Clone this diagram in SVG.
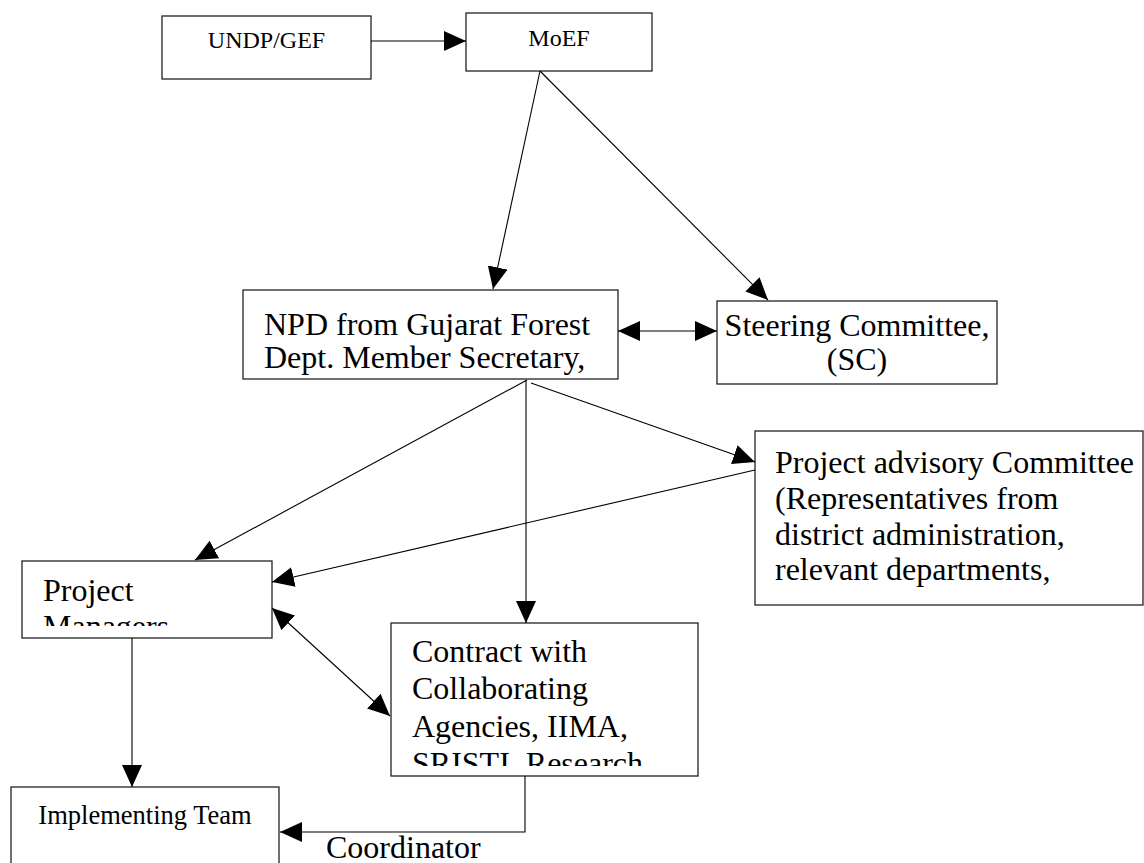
<svg xmlns="http://www.w3.org/2000/svg" width="1144" height="863" viewBox="0 0 1144 863">
<style>
.box{fill:#fff;stroke:#222;stroke-width:1.3}
.t{font-family:"Liberation Serif","Times New Roman",serif;fill:#000}
.s24{font-size:24px}
.s26{font-size:26.5px}
.s32{font-size:32px}
.c line,.c polyline{stroke:#000;stroke-width:1.1;fill:none}
.ah{marker-end:url(#ah)}
.dbl{marker-start:url(#ah);marker-end:url(#ah)}
</style>
<defs>
<marker id="ah" viewBox="0 0 22 20" refX="22" refY="10" markerWidth="22" markerHeight="20" markerUnits="userSpaceOnUse" orient="auto-start-reverse"><path d="M0,0L22,10L0,20z" fill="#000"/></marker>
<clipPath id="cNPD"><rect x="243" y="290" width="375" height="86"/></clipPath>
<clipPath id="cADV"><rect x="755" y="431" width="389" height="171"/></clipPath>
<clipPath id="cPM"><rect x="22" y="561" width="250" height="65"/></clipPath>
<clipPath id="cCON"><rect x="391" y="623" width="307" height="143"/></clipPath>
</defs>
<rect width="1144" height="863" fill="#fff"/>
<g id="undp">
<rect class="box" x="162" y="16" width="209" height="63"/>
<text class="t s24" x="266.5" y="48" text-anchor="middle">UNDP/GEF</text>
</g>
<g id="moef">
<rect class="box" x="466" y="13" width="186" height="58"/>
<text class="t s24" x="559" y="46" text-anchor="middle">MoEF</text>
</g>
<g id="npd">
<rect class="box" x="243" y="290" width="375" height="89"/>
<g clip-path="url(#cNPD)">
<text class="t s32" x="264" y="335">NPD from Gujarat Forest</text>
<text class="t s32" x="264" y="368">Dept. Member Secretary,</text>
</g>
</g>
<g id="steering">
<rect class="box" x="717" y="301" width="280" height="83"/>
<text class="t s32" x="857" y="336" text-anchor="middle">Steering Committee,</text>
<text class="t s32" x="857" y="370" text-anchor="middle">(SC)</text>
</g>
<g id="advisory">
<rect class="box" x="755" y="431" width="388" height="174"/>
<g clip-path="url(#cADV)">
<text class="t s32" x="775" y="473">Project advisory Committee</text>
<text class="t s32" x="775" y="509">(Representatives from</text>
<text class="t s32" x="775" y="545">district administration,</text>
<text class="t s32" x="775" y="580">relevant departments,</text>
</g>
</g>
<g id="pm">
<rect class="box" x="22" y="561" width="250" height="77"/>
<g clip-path="url(#cPM)">
<text class="t s32" x="43" y="601">Project</text>
<text class="t s32" x="43" y="637">Managers</text>
</g>
</g>
<g id="contract">
<rect class="box" x="391" y="623" width="307" height="153"/>
<g clip-path="url(#cCON)">
<text class="t s32" x="412" y="662">Contract with</text>
<text class="t s32" x="412" y="699">Collaborating</text>
<text class="t s32" x="412" y="737">Agencies, IIMA,</text>
<text class="t s32" x="412" y="774">SRISTI, Research</text>
</g>
</g>
<g id="implementing">
<rect class="box" x="11" y="787" width="268" height="90"/>
<text class="t s26" x="145" y="824" text-anchor="middle">Implementing Team</text>
</g>
<g id="connectors" class="c">
<line class="ah" x1="371" y1="41" x2="466" y2="41"/>
<line class="ah" x1="540" y1="71" x2="493" y2="289"/>
<line class="ah" x1="540" y1="71" x2="768" y2="300"/>
<line class="dbl" x1="618" y1="331" x2="717" y2="331"/>
<line class="ah" x1="527" y1="380" x2="195" y2="560"/>
<line class="ah" x1="526" y1="380" x2="526" y2="623"/>
<line class="ah" x1="531" y1="383" x2="755" y2="462"/>
<line class="ah" x1="755" y1="470" x2="272" y2="582"/>
<line class="dbl" x1="272" y1="608" x2="390" y2="716"/>
<line class="ah" x1="132" y1="638" x2="132" y2="787"/>
<polyline class="ah" points="525,776 525,832 280,832"/>
</g>
<text id="coordinator" class="t s32" x="326" y="858">Coordinator</text>
</svg>
